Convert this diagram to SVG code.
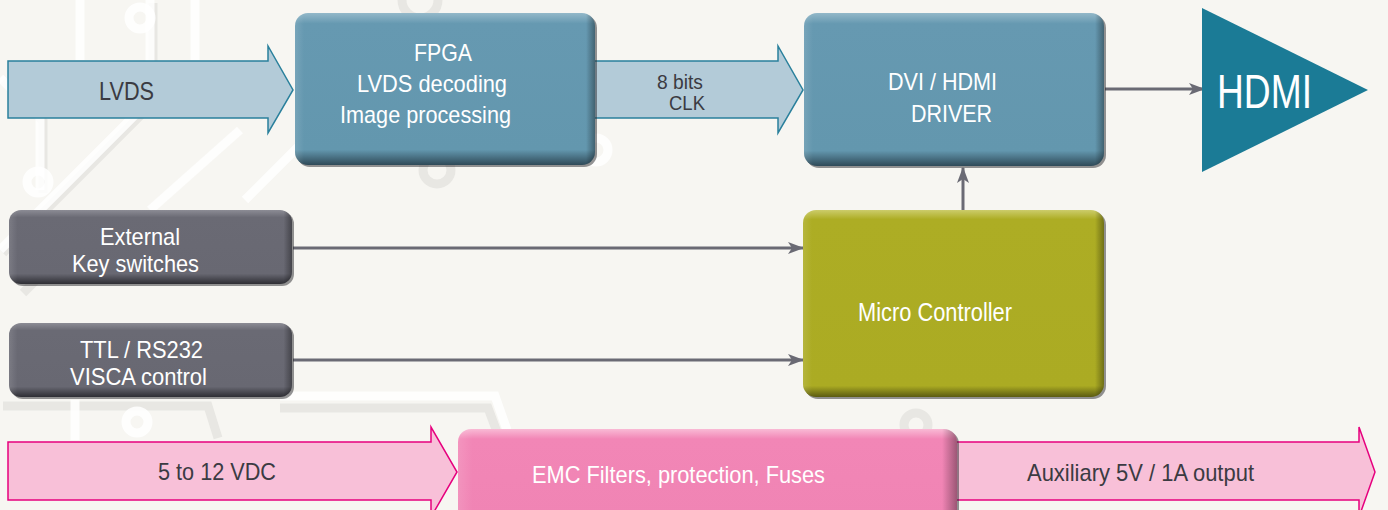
<svg xmlns="http://www.w3.org/2000/svg" width="1388" height="510" viewBox="0 0 1388 510">
<defs>
<style>
.txt{font-family:"Liberation Sans",Arial,sans-serif;}
.dark{fill:#3b3b42;}
.white{fill:#ffffff;}
.conn{stroke:#6a6a74;stroke-width:3;fill:none;}
.bgw{stroke:#ffffff;fill:none;stroke-width:9;opacity:0.85;}
.bgs{stroke:#e8e7e3;fill:none;stroke-width:9;}
.blueArrow{fill:#b3cbd8;stroke:#2a809c;stroke-width:1.5;}
.pinkArrow{fill:#f8c0d8;stroke:#e6007e;stroke-width:1.5;}
.shadow{fill:#2a2a2e;opacity:0.5;}
</style>
<linearGradient id="gBlue" x1="0" y1="0" x2="0" y2="1">
<stop offset="0" stop-color="#93b8c9"/>
<stop offset="0.07" stop-color="#6699b1"/>
<stop offset="0.9" stop-color="#6397ae"/>
<stop offset="1" stop-color="#2f4a58"/>
</linearGradient>
<linearGradient id="gGray" x1="0" y1="0" x2="0" y2="1">
<stop offset="0" stop-color="#8c8c95"/>
<stop offset="0.1" stop-color="#6a6a74"/>
<stop offset="0.86" stop-color="#686872"/>
<stop offset="1" stop-color="#2e2e34"/>
</linearGradient>
<linearGradient id="gOlive" x1="0" y1="0" x2="0" y2="1">
<stop offset="0" stop-color="#cccc6a"/>
<stop offset="0.05" stop-color="#adad24"/>
<stop offset="0.94" stop-color="#abab23"/>
<stop offset="1" stop-color="#5b5b12"/>
</linearGradient>
<linearGradient id="gPink" x1="0" y1="0" x2="0" y2="1">
<stop offset="0" stop-color="#f9bad5"/>
<stop offset="0.1" stop-color="#f286b6"/>
<stop offset="0.88" stop-color="#f084b4"/>
<stop offset="1" stop-color="#8a4a66"/>
</linearGradient>
<linearGradient id="gEdge" x1="0" y1="0" x2="1" y2="0">
<stop offset="0" stop-color="#ffffff" stop-opacity="0.12"/>
<stop offset="0.03" stop-color="#ffffff" stop-opacity="0"/>
<stop offset="0.97" stop-color="#000000" stop-opacity="0"/>
<stop offset="1" stop-color="#000000" stop-opacity="0.35"/>
</linearGradient>
<marker id="arr" viewBox="0 0 16 12" refX="15" refY="6" markerWidth="16" markerHeight="12" markerUnits="userSpaceOnUse" orient="auto">
<path d="M0,0 L16,6 L0,12 L4,6 z" fill="#6a6a74"/>
</marker>
</defs>

<!-- background -->
<rect x="0" y="0" width="1388" height="510" fill="#f7f6f2"/>
<g id="background-pattern">
<path class="bgs" d="M0,78 L40,118 L40,190" transform="translate(3,3)"/>
<path class="bgw" d="M0,78 L40,118 L40,190"/>
<path class="bgs" d="M0,250 L150,100 L150,0" transform="translate(3,3)"/>
<path class="bgw" d="M0,250 L150,100 L150,0"/>
<path class="bgw" d="M80,0 L80,60"/>
<path class="bgw" d="M195,0 L195,60"/>
<path class="bgw" d="M245,200 L320,125"/>
<path class="bgs" d="M20,290 L100,210" transform="translate(3,3)"/>
<path class="bgw" d="M150,210 L240,130"/>
<path class="bgs" d="M0,403 L205,403 L215,435" transform="translate(3,3)"/>
<path class="bgs" d="M280,408 L488,408 L500,440"/>
<path class="bgw" d="M280,396 L495,396 L507,430"/>
<path class="bgw" d="M75,400 L75,440"/>
<circle cx="38" cy="182" r="11" class="bgw" stroke-width="7"/>
<circle cx="137" cy="422" r="11" class="bgw" stroke-width="7"/>
<circle cx="140" cy="18" r="11" class="bgw" stroke-width="6"/>
<circle cx="420" cy="0" r="18" class="bgs" stroke-width="5"/>
<circle cx="596" cy="150" r="12" class="bgw" stroke-width="4"/>
<circle cx="437" cy="170" r="14" class="bgs" stroke-width="4"/>
<circle cx="916" cy="425" r="12" class="bgs" stroke-width="4"/>
</g>

<!-- flow arrows (block arrows) -->
<g id="arrow-lvds">
<polygon class="blueArrow" points="8,61 268,61 268,46 293,90 268,133 268,118 8,118"/>
<text class="txt dark" x="99" y="100" font-size="25" textLength="55" lengthAdjust="spacingAndGlyphs">LVDS</text>
</g>
<g id="arrow-8bits">
<polygon class="blueArrow" points="594,61 778,61 778,46 803,90 778,133 778,118 594,118"/>
<text class="txt dark" x="657" y="89" font-size="21" textLength="46" lengthAdjust="spacingAndGlyphs">8 bits</text>
<text class="txt dark" x="669" y="110" font-size="21" textLength="36" lengthAdjust="spacingAndGlyphs">CLK</text>
</g>
<g id="arrow-power-in">
<polygon class="pinkArrow" points="8,442 431,442 431,427 457,472 431,517 431,500 8,500"/>
<text class="txt dark" x="158" y="480" font-size="24" textLength="118" lengthAdjust="spacingAndGlyphs">5 to 12 VDC</text>
</g>
<g id="arrow-aux-out">
<polygon class="pinkArrow" points="955,442 1359,442 1359,427 1375,472 1359,517 1359,500 955,500"/>
<text class="txt dark" x="1027" y="481" font-size="24" textLength="227" lengthAdjust="spacingAndGlyphs">Auxiliary 5V / 1A output</text>
</g>

<!-- connectors -->
<g id="connectors">
<line class="conn" x1="1105" y1="89" x2="1204" y2="89" marker-end="url(#arr)"/>
<line class="conn" x1="963" y1="210" x2="963" y2="168" marker-end="url(#arr)"/>
<line class="conn" x1="293" y1="248" x2="803" y2="248" marker-end="url(#arr)"/>
<line class="conn" x1="293" y1="360" x2="803" y2="360" marker-end="url(#arr)"/>
</g>

<!-- nodes -->
<g id="node-fpga">
<rect x="297" y="15" width="300" height="152" rx="13" class="shadow"/>
<rect x="295" y="13" width="300" height="152" rx="13" fill="url(#gBlue)"/>
<rect x="295" y="13" width="300" height="152" rx="13" fill="url(#gEdge)"/>
<text class="txt white" x="414" y="61" font-size="24" textLength="58" lengthAdjust="spacingAndGlyphs">FPGA</text>
<text class="txt white" x="357" y="92" font-size="24" textLength="150" lengthAdjust="spacingAndGlyphs">LVDS decoding</text>
<text class="txt white" x="340" y="123" font-size="24" textLength="171" lengthAdjust="spacingAndGlyphs">Image processing</text>
</g>
<g id="node-dvi">
<rect x="806" y="15" width="300" height="153" rx="13" class="shadow"/>
<rect x="804" y="13" width="300" height="153" rx="13" fill="url(#gBlue)"/>
<rect x="804" y="13" width="300" height="153" rx="13" fill="url(#gEdge)"/>
<text class="txt white" x="888" y="90" font-size="24" textLength="109" lengthAdjust="spacingAndGlyphs">DVI / HDMI</text>
<text class="txt white" x="911" y="122" font-size="24" textLength="81" lengthAdjust="spacingAndGlyphs">DRIVER</text>
</g>
<g id="node-hdmi">
<polygon points="1202,8 1368,90 1202,172" fill="#1b7b96"/>
<text class="txt white" x="1217" y="108" font-size="49" textLength="95" lengthAdjust="spacingAndGlyphs">HDMI</text>
</g>
<g id="node-external">
<rect x="11" y="212" width="283" height="74" rx="12" class="shadow"/>
<rect x="9" y="210" width="283" height="74" rx="12" fill="url(#gGray)"/>
<rect x="9" y="210" width="283" height="74" rx="12" fill="url(#gEdge)"/>
<text class="txt white" x="100" y="245" font-size="24" textLength="80" lengthAdjust="spacingAndGlyphs">External</text>
<text class="txt white" x="72" y="272" font-size="24" textLength="127" lengthAdjust="spacingAndGlyphs">Key switches</text>
</g>
<g id="node-ttl">
<rect x="11" y="325" width="283" height="74" rx="12" class="shadow"/>
<rect x="9" y="323" width="283" height="74" rx="12" fill="url(#gGray)"/>
<rect x="9" y="323" width="283" height="74" rx="12" fill="url(#gEdge)"/>
<text class="txt white" x="80" y="358" font-size="24" textLength="123" lengthAdjust="spacingAndGlyphs">TTL / RS232</text>
<text class="txt white" x="70" y="385" font-size="24" textLength="137" lengthAdjust="spacingAndGlyphs">VISCA control</text>
</g>
<g id="node-micro">
<rect x="805" y="212" width="301" height="187" rx="13" class="shadow"/>
<rect x="803" y="210" width="301" height="187" rx="13" fill="url(#gOlive)"/>
<rect x="803" y="210" width="301" height="187" rx="13" fill="url(#gEdge)"/>
<text class="txt white" x="858" y="321" font-size="25" textLength="154" lengthAdjust="spacingAndGlyphs">Micro Controller</text>
</g>
<g id="node-emc">
<rect x="460" y="431" width="499" height="100" rx="13" class="shadow"/>
<rect x="458" y="429" width="499" height="100" rx="13" fill="url(#gPink)"/>
<rect x="458" y="429" width="499" height="100" rx="13" fill="url(#gEdge)"/>
<text class="txt white" x="532" y="483" font-size="24" textLength="293" lengthAdjust="spacingAndGlyphs">EMC Filters, protection, Fuses</text>
</g>
</svg>
